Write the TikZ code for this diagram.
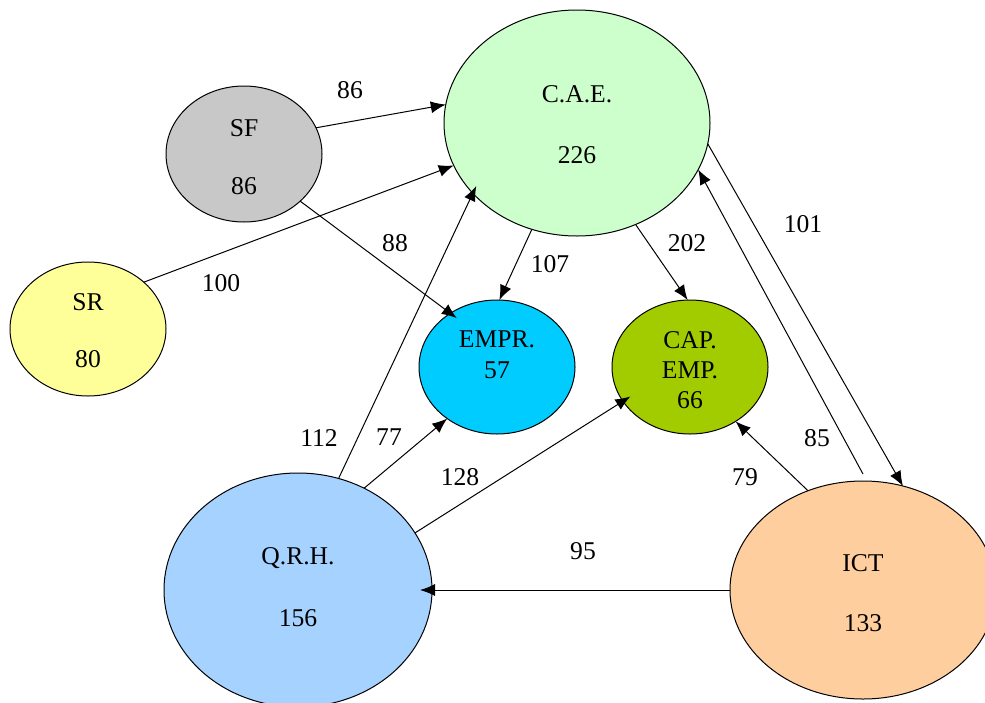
\documentclass[tikz,border=0pt]{standalone}
\usepackage{fontspec}
\setmainfont{Liberation Serif}
\usetikzlibrary{shapes.geometric,arrows.meta}

\definecolor{caefill}{HTML}{CCFFCC}
\definecolor{sffill}{HTML}{C8C8C8}
\definecolor{srfill}{HTML}{FFFF99}
\definecolor{emprfill}{HTML}{00CCFF}
\definecolor{capfill}{HTML}{A3CC00}
\definecolor{qrhfill}{HTML}{A6D2FF}
\definecolor{ictfill}{HTML}{FFCE9E}

\begin{document}
\begin{tikzpicture}[x=0.5pt,y=-0.5pt,
  blob/.style={ellipse,draw=black,line width=0.5pt,inner sep=0pt,outer sep=0pt},
  txt/.style={inner sep=0pt,font=\fontsize{12.8}{15}\selectfont},
  flow/.style={-{Latex[length=7.5pt,width=6pt]},line width=0.5pt}]
\useasboundingbox (0,0) rectangle (985,702);

% groups
\node[blob,fill=caefill,minimum width=133pt,minimum height=113pt] (cae) at (577,123) {};
\node[blob,fill=sffill,minimum width=78pt,minimum height=68pt] (sf) at (244,154) {};
\node[blob,fill=srfill,minimum width=78pt,minimum height=67pt] (sr) at (88,329) {};
\node[blob,fill=emprfill,minimum width=78pt,minimum height=67pt] (empr) at (497,367) {};
\node[blob,fill=capfill,minimum width=78pt,minimum height=67pt] (capemp) at (690,367) {};
\node[blob,fill=qrhfill,minimum width=134pt,minimum height=117pt] (qrh) at (298,590) {};
\node[blob,fill=ictfill,minimum width=133pt,minimum height=109pt] (ict) at (863,590) {};

% names and counts
\node[txt] (cae-n) at (577,94) {C.A.E.};
\node[txt] (cae-v) at (577,155) {226};
\node[txt] (sf-n) at (244,128) {SF};
\node[txt] (sf-v) at (244,186) {86};
\node[txt] (sr-n) at (88,302) {SR};
\node[txt] (sr-v) at (88,359) {80};
\node[txt] (empr-n) at (497,339) {EMPR.};
\node[txt] (empr-v) at (497,370) {57};
\node[txt] (cap-n1) at (690,340) {CAP.};
\node[txt] (cap-n2) at (690,370) {EMP.};
\node[txt] (cap-v) at (690,400) {66};
\node[txt] (qrh-n) at (298,558) {Q.R.H.};
\node[txt] (qrh-v) at (298,618) {156};
\node[txt] (ict-n) at (863,563) {ICT};
\node[txt] (ict-v) at (863,623) {133};

% flows
\draw[flow] (sf.20) -- (cae.172);
\draw[flow] (sr.40) -- (cae.199);
\draw[flow,shorten >=-4pt] (sf.-40) -- (empr.131);
\draw[flow] (cae.247) -- (empr.88);
\draw[flow] (cae.-60) -- (capemp.92);
\draw[flow] (cae.-9) -- (ict.69);
\draw[flow,shorten <=4pt] (ict.88) -- (cae.-21);
\draw[flow] (ict.119) -- (capemp.-50);
\draw[flow,shorten >=-4pt] (qrh.70) -- (cae.214);
\draw[flow] (qrh.57) -- (empr.226);
\draw[flow,shorten >=-4.4pt] (qrh.26) -- (capemp.207);
\draw[flow,shorten >=-6pt] (ict.180) -- (qrh.0);

% flow sizes
\node[txt] (f-sf-cae) at (350,90) {86};
\node[txt] (f-sr-cae) at (221,283) {100};
\node[txt] (f-sf-empr) at (395,243) {88};
\node[txt] (f-cae-empr) at (550,264) {107};
\node[txt] (f-cae-cap) at (687,243) {202};
\node[txt] (f-cae-ict) at (803,224) {101};
\node[txt] (f-ict-cae) at (817,438) {85};
\node[txt] (f-ict-cap) at (745,477) {79};
\node[txt] (f-qrh-cae) at (319,438) {112};
\node[txt] (f-qrh-empr) at (389,437) {77};
\node[txt] (f-qrh-cap) at (460,477) {128};
\node[txt] (f-ict-qrh) at (583,551) {95};
\end{tikzpicture}
\end{document}
